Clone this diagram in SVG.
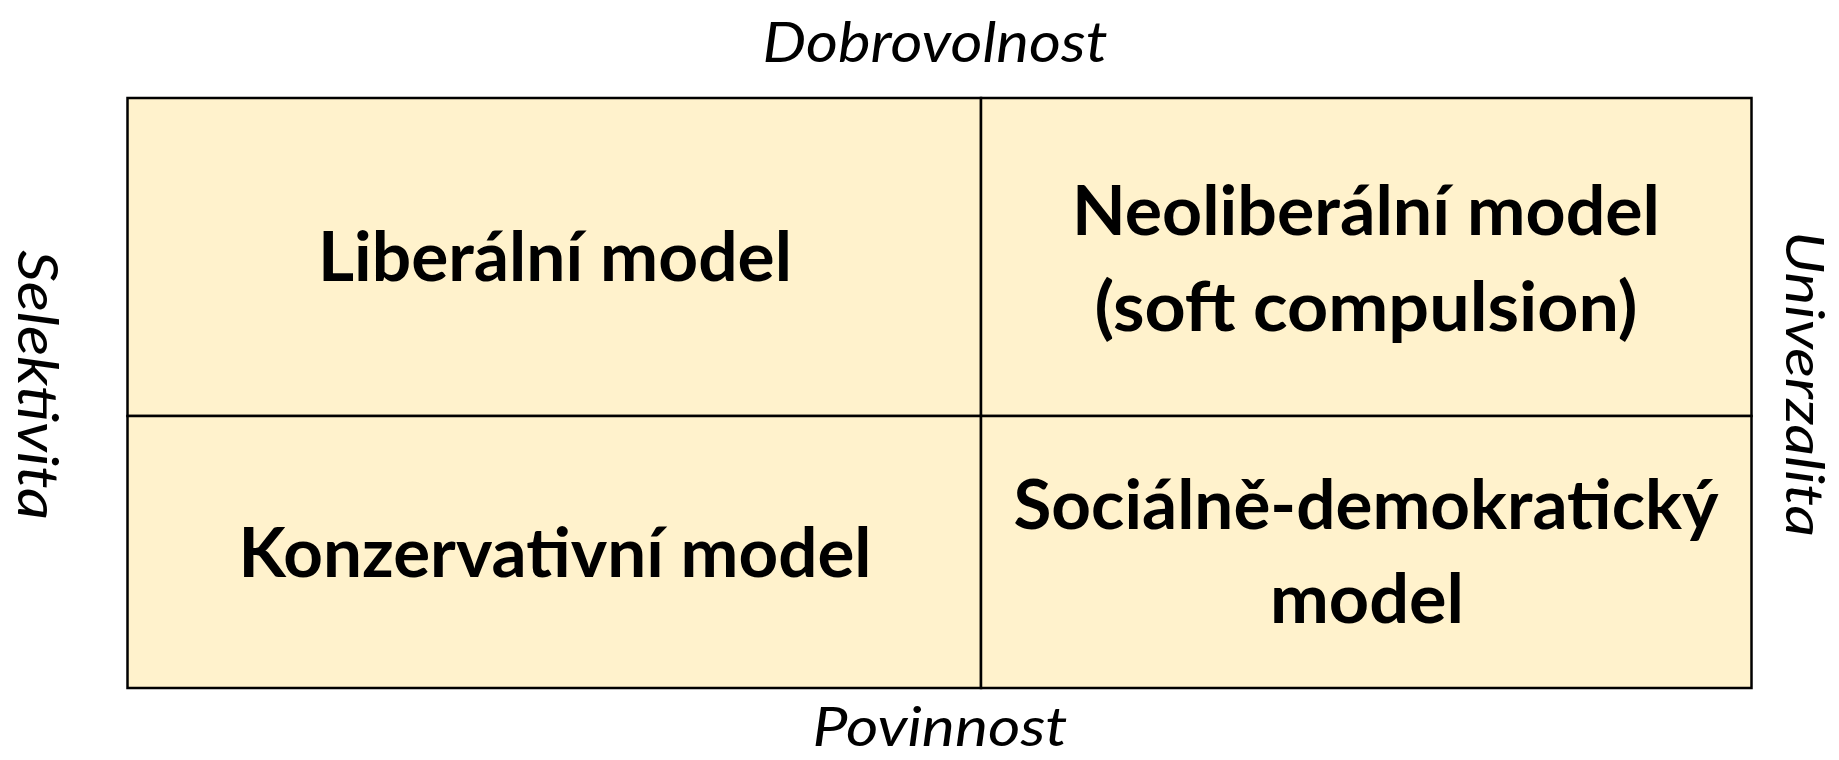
<svg xmlns="http://www.w3.org/2000/svg" width="1839" height="760" viewBox="0 0 1839 760">
  <style>
    .cell { fill: #FFF2CC; stroke: #000000; stroke-width: 2.5; }
    .lbl { font-family: Lato, "Open Sans", "Liberation Sans", sans-serif; font-weight: bold; font-size: 68px; fill: #000000; text-anchor: middle; }
    .axis { font-family: Lato, "Open Sans", "Liberation Sans", sans-serif; font-style: italic; font-size: 57px; fill: #000000; text-anchor: middle; }
  </style>
  <rect width="1839" height="760" fill="#FFFFFF"/>
  <g id="cell-liberalni">
    <rect class="cell" x="127.5" y="98" width="853.5" height="318"/>
    <text class="lbl" x="555" y="281" textLength="474" lengthAdjust="spacingAndGlyphs">Liberální model</text>
  </g>
  <g id="cell-neoliberalni">
    <rect class="cell" x="981" y="98" width="770.5" height="318"/>
    <text class="lbl" x="1366" y="235" textLength="588" lengthAdjust="spacingAndGlyphs">Neoliberální model</text>
    <text class="lbl" x="1366" y="331" textLength="543" lengthAdjust="spacingAndGlyphs">(soft compulsion)</text>
  </g>
  <g id="cell-konzervativni">
    <rect class="cell" x="127.5" y="416" width="853.5" height="272"/>
    <text class="lbl" x="555" y="577" textLength="633" lengthAdjust="spacingAndGlyphs">Konzervativní model</text>
  </g>
  <g id="cell-socialne-demokraticky">
    <rect class="cell" x="981" y="416" width="770.5" height="272"/>
    <text class="lbl" x="1366" y="529" textLength="705" lengthAdjust="spacingAndGlyphs">Sociálně-demokratický</text>
    <text class="lbl" x="1367" y="623" textLength="194" lengthAdjust="spacingAndGlyphs">model</text>
  </g>
  <g id="axis-labels">
    <text class="axis" x="935" y="62" textLength="345" lengthAdjust="spacingAndGlyphs">Dobrovolnost</text>
    <text class="axis" x="940" y="746" style="font-size:55px" textLength="255" lengthAdjust="spacingAndGlyphs">Povinnost</text>
    <text class="axis" transform="translate(18,385) rotate(90)" x="0" y="0" textLength="270" lengthAdjust="spacingAndGlyphs">Selektivita</text>
    <text class="axis" transform="translate(1786,384) rotate(90)" x="0" y="0" style="font-size:52px" textLength="306" lengthAdjust="spacingAndGlyphs">Univerzalita</text>
  </g>
  <g id="connectors"></g>
</svg>
